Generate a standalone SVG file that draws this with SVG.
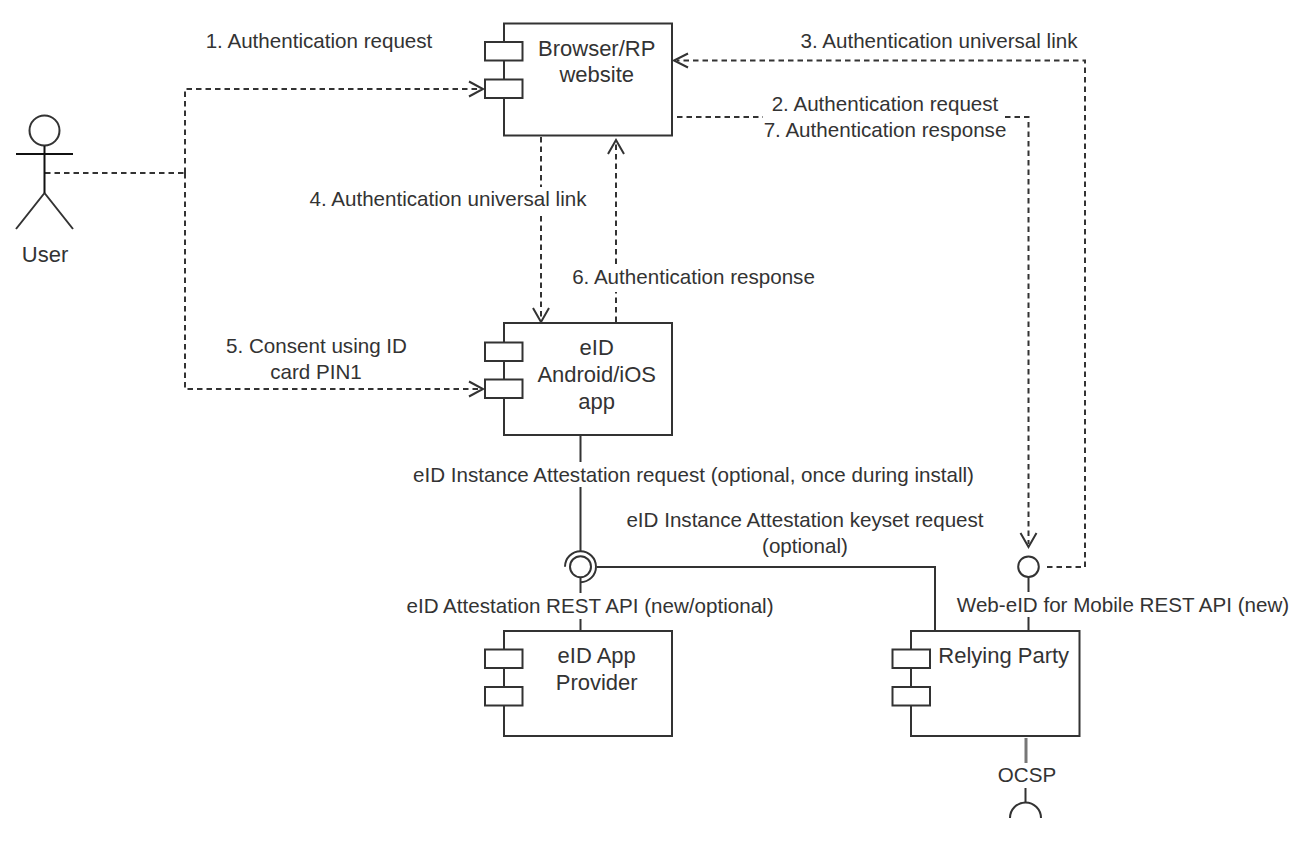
<svg xmlns="http://www.w3.org/2000/svg" width="1306" height="850" viewBox="0 0 1306 850">
<style>
text{font-family:"Liberation Sans",Arial,sans-serif;fill:#333;text-anchor:middle}
.n{font-size:22px}
.l{font-size:20.6px}
.s{fill:#fff;stroke:#333;stroke-width:2}
.c{fill:none;stroke:#333;stroke-width:2}
.d{fill:none;stroke:#333;stroke-width:2;stroke-dasharray:5.5 4}
.a{fill:none;stroke:#333;stroke-width:2}
</style>
<rect width="1306" height="850" fill="#fff"/>
<g id="connectors">
<path class="d" d="M45 173H185M185 173V89H480"/>
<path class="d" d="M185 173V389H480"/>
<path class="a" d="M469 81.500L483 89L469 96.500M469 381.500L483 389L469 396.500"/>
<path class="d" d="M541 137V187M541 216V320"/>
<path class="a" d="M533 308L541 322L549 308"/>
<path class="d" d="M616 322V292M616 264V142"/>
<path class="a" d="M608 154L616 140L624 154"/>
<path class="d" d="M1047 567H1085V60.500H677"/>
<path class="a" d="M688 53.500L674 60.500L688 67.500"/>
<path class="d" d="M677 117H763M1005 117H1028.500V544"/>
<path class="a" d="M1020.500 533L1028.500 547L1036.500 533"/>
<path class="c" d="M580.500 435V462M580.500 487V551M580.500 577V593M580.500 619V631"/>
<path class="c" d="M597 567H935V631"/>
<path class="c" d="M1028.500 577V592M1028.500 617V631"/>
<path fill="none" stroke="#777" stroke-width="3" d="M1026 738V763"/>
<path class="c" d="M1025.500 788V803"/>
</g>
<g id="user">
<circle class="c" cx="44.500" cy="130.500" r="15"/>
<path fill="none" stroke="#111" stroke-width="2" d="M44.500 146V193M16 154H73"/>
<path class="c" d="M44.500 193L16 229M44.500 193L73 229"/>
<text class="n" x="45" y="262">User</text>
</g>
<g id="browser-rp-website">
<rect class="s" x="504" y="23.500" width="168" height="112"/>
<rect class="s" x="485" y="42" width="37.500" height="18.500"/>
<rect class="s" x="485" y="79.500" width="37.500" height="18.500"/>
<text class="n" x="596.700" y="55.500">Browser/RP</text>
<text class="n" x="596.700" y="82">website</text>
</g>
<g id="eid-app">
<rect class="s" x="504" y="323" width="168" height="112"/>
<rect class="s" x="485" y="342.500" width="37.500" height="18.500"/>
<rect class="s" x="485" y="379.500" width="37.500" height="18.500"/>
<text class="n" x="596.700" y="355">eID</text>
<text class="n" x="596.700" y="382">Android/iOS</text>
<text class="n" x="596.700" y="409">app</text>
</g>
<g id="eid-app-provider">
<rect class="s" x="504" y="631" width="168" height="105"/>
<rect class="s" x="485" y="649.500" width="37.500" height="18.500"/>
<rect class="s" x="485" y="687" width="37.500" height="18.500"/>
<text class="n" x="596.700" y="663">eID App</text>
<text class="n" x="596.700" y="690">Provider</text>
</g>
<g id="relying-party">
<rect class="s" x="911" y="631" width="168.500" height="105"/>
<rect class="s" x="892.500" y="649.500" width="37.500" height="18.500"/>
<rect class="s" x="892.500" y="687" width="37.500" height="18.500"/>
<text class="n" x="1003.700" y="663">Relying Party</text>
</g>
<g id="attestation-interface">
<circle class="c" cx="580.500" cy="566.700" r="10.500"/>
<path class="c" d="M565 566.700A15.500 15.500 0 1 1 580.500 582.200"/>
</g>
<g id="web-eid-interface">
<circle class="c" cx="1028.500" cy="566.700" r="10.300"/>
</g>
<g id="ocsp-interface">
<path class="c" d="M1010 818A15.500 15.500 0 0 1 1041 818"/>
</g>
<g id="labels">
<text class="l" x="319" y="48">1. Authentication request</text>
<text class="l" x="939" y="48">3. Authentication universal link</text>
<text class="l" x="885" y="110.500">2. Authentication request</text>
<text class="l" x="885" y="137">7. Authentication response</text>
<text class="l" x="448" y="206">4. Authentication universal link</text>
<text class="l" x="693.500" y="284">6. Authentication response</text>
<text class="l" x="316.500" y="353">5. Consent using ID</text>
<text class="l" x="316" y="379">card PIN1</text>
<text class="l" x="693.500" y="481.500">eID Instance Attestation request (optional, once during install)</text>
<text class="l" x="805" y="527">eID Instance Attestation keyset request</text>
<text class="l" x="805" y="553">(optional)</text>
<text class="l" x="590" y="612.500">eID Attestation REST API (new/optional)</text>
<text class="l" x="1123" y="611.500">Web-eID for Mobile REST API (new)</text>
<text class="l" x="1027" y="782">OCSP</text>
</g>
</svg>
